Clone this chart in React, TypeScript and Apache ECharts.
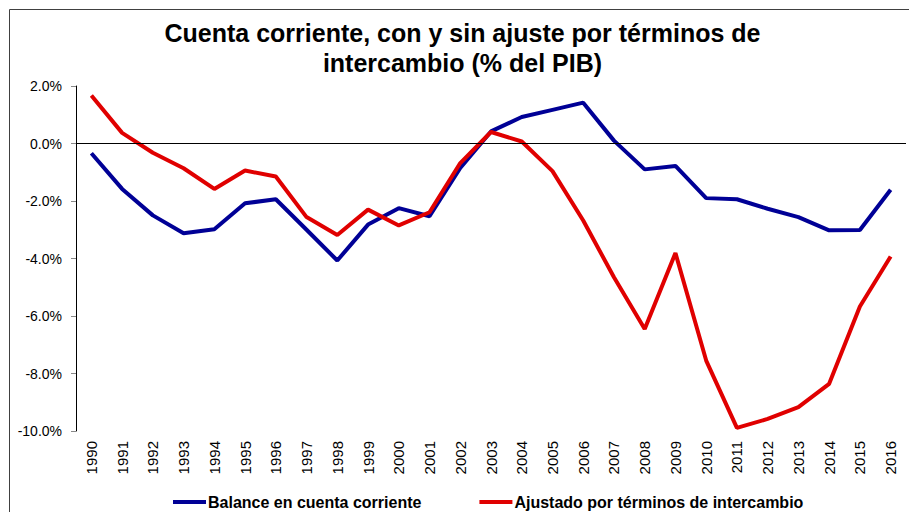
import React, { useEffect, useRef } from "react";
import * as echarts from "echarts";

const years = [
  "1990", "1991", "1992", "1993", "1994", "1995", "1996", "1997", "1998", "1999",
  "2000", "2001", "2002", "2003", "2004", "2005", "2006", "2007", "2008", "2009",
  "2010", "2011", "2012", "2013", "2014", "2015", "2016",
];

const balance = [
  -0.34, -1.58, -2.5, -3.12, -2.98, -2.08, -1.94, -3.0, -4.07, -2.82,
  -2.25, -2.53, -0.85, 0.42, 0.92, 1.17, 1.42, 0.1, -0.9, -0.78,
  -1.9, -1.94, -2.27, -2.56, -3.02, -3.01, -1.61,
];

const adjusted = [
  1.67, 0.37, -0.32, -0.86, -1.58, -0.94, -1.15, -2.56, -3.18, -2.3,
  -2.85, -2.39, -0.68, 0.4, 0.07, -0.96, -2.68, -4.65, -6.45, -3.81,
  -7.55, -9.89, -9.58, -9.17, -8.36, -5.67, -3.93,
];

const seriesNames = ["Balance en cuenta corriente", "Ajustado por términos de intercambio"];
const titleLines = ["Cuenta corriente, con y sin ajuste por términos de", "intercambio (% del PIB)"];

const FONT = "'Liberation Sans', Arial, sans-serif";

export default function App() {
  const ref = useRef<HTMLDivElement>(null);
  useEffect(() => {
    if (!ref.current) return;
    const chart = echarts.init(ref.current, undefined, { renderer: "svg" });
    chart.setOption({
      animation: false,
      backgroundColor: "#ffffff",
      textStyle: { fontFamily: FONT },
      graphic: [
        {
          type: "rect",
          shape: { x: 9.5, y: 9.5, width: 1000, height: 1000 },
          style: { fill: "none", stroke: "#404040", lineWidth: 1 },
          silent: true,
        },
        ...titleLines.map((t, i) => ({
          type: "text",
          x: 462.5,
          y: 33 + i * 30,
          silent: true,
          style: {
            text: t,
            fontFamily: FONT,
            fontSize: 25,
            fontWeight: "bold",
            fill: "#000000",
            textAlign: "center",
            textVerticalAlign: "middle",
          },
        })),
      ],
      legend: {
        top: 494,
        left: 173,
        padding: 0,
        icon: "rect",
        itemWidth: 33,
        itemHeight: 4,
        itemGap: 58,
        textStyle: {
          fontFamily: FONT,
          fontSize: 16,
          fontWeight: "bold",
          color: "#000000",
          padding: [0, 0, 0, -3],
        },
        data: seriesNames,
      },
      grid: { left: 76, right: 3, top: 86, bottom: 81 },
      xAxis: {
        type: "category",
        data: years,
        boundaryGap: true,
        axisLine: { show: false, onZero: false },
        axisTick: { show: false },
        axisLabel: {
          rotate: 90,
          fontFamily: FONT,
          fontSize: 15,
          color: "#000000",
          margin: 10,
          interval: 0,
        },
      },
      yAxis: {
        type: "value",
        min: -10,
        max: 2,
        interval: 2,
        axisLine: { show: true, lineStyle: { color: "#000000", width: 1 } },
        axisTick: { show: true, length: 5, lineStyle: { color: "#888888" } },
        splitLine: { show: false },
        axisLabel: {
          fontFamily: FONT,
          fontSize: 14,
          color: "#000000",
          margin: 14,
          formatter: (v: number) => `${v.toFixed(1)}%`,
        },
      },
      series: [
        {
          name: seriesNames[0],
          type: "line",
          data: balance,
          symbol: "none",
          lineStyle: { color: "#000096", width: 4 },
          itemStyle: { color: "#000096" },
          z: 3,
          markLine: {
            silent: true,
            symbol: "none",
            label: { show: false },
            lineStyle: { color: "#000000", width: 1, type: "solid" },
            data: [{ yAxis: 0 }],
          },
        },
        {
          name: seriesNames[1],
          type: "line",
          data: adjusted,
          symbol: "none",
          lineStyle: { color: "#E00000", width: 4 },
          itemStyle: { color: "#E00000" },
          z: 4,
        },
      ],
    });
    return () => chart.dispose();
  }, []);
  return (
    <div
      ref={ref}
      style={{ position: "fixed", left: 0, top: 0, width: 909, height: 512 }}
    />
  );
}
